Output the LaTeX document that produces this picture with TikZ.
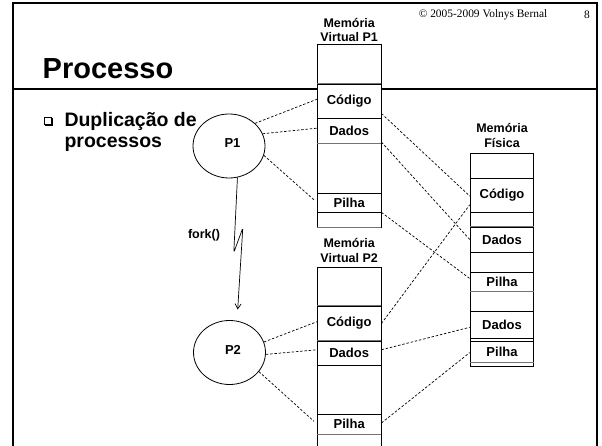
\documentclass[tikz,border=0pt]{standalone}
\usepackage{fontspec}
\setmainfont{Liberation Sans}
\newfontfamily\serifff{Liberation Serif}
\usetikzlibrary{shapes.geometric,arrows.meta,calc}
\tikzset{
  cell/.style={draw=black, line width=0.8pt, fill=white, minimum width=63.7pt, inner sep=0pt, font=\fontsize{13}{14}\selectfont\bfseries},
  hdr/.style={align=center, inner sep=0pt, font=\fontsize{12.5}{14.5}\selectfont\bfseries},
  proc/.style={ellipse, draw=black, line width=0.8pt, minimum width=72pt, minimum height=64pt, inner sep=0pt},
  conn/.style={dash pattern=on 2.5pt off 1.8pt, line width=0.7pt},
  graysep/.style={draw=black!55, line width=1.3pt},
}
\begin{document}
\begin{tikzpicture}[x=1pt,y=-1pt]
\path[use as bounding box] (0,0) rectangle (602,446);
\clip (0,0) rectangle (602,446);
% frame
\draw[line width=2pt] (13.3,470) -- (13.3,3.5) -- (596.5,3.5) -- (596.5,470);
\draw[line width=2.5pt] (13.3,89) -- (596.5,89);
% header texts
\node[anchor=base west, inner sep=0pt, font=\fontsize{29}{31}\selectfont\bfseries] (title) at (42.5,78.3) {Processo};
\node[inner sep=0pt, font=\serifff\fontsize{11.4}{12}\selectfont] (copy) at (483,15) {© 2005-2009 Volnys Bernal};
\node[inner sep=0pt, font=\serifff\fontsize{11.4}{12}\selectfont] (pnum) at (587,15) {8};
% bullet
\node[draw=black, line width=0.6pt, minimum size=7.5pt, inner sep=0pt] (bullet) at (47.8,120.6) {};
\draw[line width=1.1pt] ($(bullet.south west)+(1.2,0.6)$) -- ($(bullet.south east)+(0.6,0.6)$) -- ($(bullet.north east)+(0.6,1.2)$);
\node[anchor=base west, inner sep=0pt, font=\fontsize{19.5}{23}\selectfont\bfseries] (dup1) at (64.3,126.7) {Duplicação de};
\node[anchor=base west, inner sep=0pt, font=\fontsize{19.5}{23}\selectfont\bfseries] (dup2) at (64.3,147.9) {processos};

% Memoria Virtual P1
\node[hdr] (h1) at (349.2,30) {Memória\\Virtual P1};
\node[cell, minimum height=40pt] (v1e1) at (349.2,64) {};
\node[cell, minimum height=34pt] (v1c) at (349.2,101) {Código};
\node[cell, minimum height=25pt] (v1d) at (349.2,130.5) {Dados};
\node[cell, minimum height=50pt] (v1e2) at (349.2,168) {};
\node[cell, minimum height=19pt] (v1p) at (349.2,202.5) {Pilha};
\node[cell, minimum height=15pt] (v1e3) at (349.2,219.5) {};
\draw[graysep] (v1c.north west) -- (v1c.north east);
\draw[graysep] (v1d.south west) -- (v1d.south east);
\draw[graysep] (v1e3.south west) -- (v1e3.south east);

% Memoria Virtual P2
\node[hdr] (h2) at (349.2,250.5) {Memória\\Virtual P2};
\node[cell, minimum height=39pt] (v2e1) at (349.2,286.5) {};
\node[cell, minimum height=35pt] (v2c) at (349.2,323.5) {Código};
\node[cell, minimum height=24pt] (v2d) at (349.2,353) {Dados};
\node[cell, minimum height=49pt] (v2e2) at (349.2,389.5) {};
\node[cell, minimum height=20pt] (v2p) at (349.2,424) {Pilha};
\node[cell, minimum height=30pt] (v2e3) at (349.2,449) {};
\draw[graysep] (v2c.north west) -- (v2c.north east);
\draw[graysep] (v2d.north west) -- (v2d.north east);
\draw[graysep] (v2p.south west) -- (v2p.south east);

% Memoria Fisica
\node[hdr] (h3) at (502,135.5) {Memória\\Física};
\node[cell, minimum height=25pt] (fe1) at (502,165.5) {};
\node[cell, minimum height=34pt] (fc) at (502,195) {Código};
\node[cell, minimum height=15pt] (fe2) at (502,219.5) {};
\node[cell, minimum height=25pt] (fd1) at (502,239.5) {Dados};
\node[cell, minimum height=20pt] (fe3) at (502,262) {};
\node[cell, minimum height=19pt] (fp1) at (502,281.5) {Pilha};
\node[cell, minimum height=20pt] (fe4) at (502,301) {};
\node[cell, minimum height=27pt] (fd2) at (502,324.5) {Dados};
\node[cell, minimum height=3pt] (fe5) at (502,339.5) {};
\node[cell, minimum height=21pt] (fp2) at (502,351.5) {Pilha};
\node[cell, minimum height=4pt] (fe6) at (502,364) {};
\draw[graysep] (fd1.north west) -- (fd1.north east);
\draw[graysep] (fp1.south west) -- (fp1.south east);
\draw[graysep] (fp2.south west) -- (fp2.south east);

% processes
\node[proc, label={[inner sep=0pt, font=\fontsize{13}{14}\selectfont\bfseries]center:{\raisebox{6pt}{\hspace*{7pt}P1}}}] (p1) at (229,146) {};
\node[proc, label={[inner sep=0pt, font=\fontsize{13}{14}\selectfont\bfseries]center:{\raisebox{5pt}{\hspace*{7pt}P2}}}] (p2) at (229.5,352.5) {};

% fork
\coordinate (fk1) at (233.8,252.5);
\coordinate (fk2) at (242.8,228);
\coordinate (fkend) at (237.7,309.5);
\draw[line width=0.7pt, rounded corners=1.5pt, -{Straight Barb[length=5pt,width=6pt]}] (p1.-75) -- (fk1) -- (fk2) -- (fkend);
\node[inner sep=0pt, font=\fontsize{12.5}{14}\selectfont\bfseries] (forklbl) at (204,235) {fork()};

% P1 to virtual P1
\draw[conn] (p1.41) -- ($(v1c.north west)!0.45!(v1c.south west)$);
\draw[conn] (p1.20) -- ($(v1d.north west)!0.41!(v1d.south west)$);
\draw[conn, shorten >=4pt] (p1.-15) -- (v1p.west);
% P2 to virtual P2
\draw[conn] (p2.17) -- ($(v2c.north west)!0.45!(v2c.south west)$);
\draw[conn] (p2.-3) -- ($(v2d.north west)!0.37!(v2d.south west)$);
\draw[conn, shorten >=4pt] (p2.-33) -- (v2p.west);
% virtual P1 to physical
\draw[conn] ($(v1c.north east)!0.86!(v1c.south east)$) -- ($(fc.north west)!0.53!(fc.south west)$);
\draw[conn] ($(v1d.north east)!0.95!(v1d.south east)$) -- (fd1.west);
\draw[conn] (v1p.south east) -- ($(fp1.north west)!0.35!(fp1.south west)$);
% virtual P2 to physical
\draw[conn] (v2c.east) -- ($(fc.north west)!0.78!(fc.south west)$);
\draw[conn] ($(v2d.north east)!0.37!(v2d.south east)$) -- ($(fd2.north west)!0.6!(fd2.south west)$);
\draw[conn] ($(v2p.north east)!0.45!(v2p.south east)$) -- ($(fp2.north west)!0.55!(fp2.south west)$);
\end{tikzpicture}
\end{document}
